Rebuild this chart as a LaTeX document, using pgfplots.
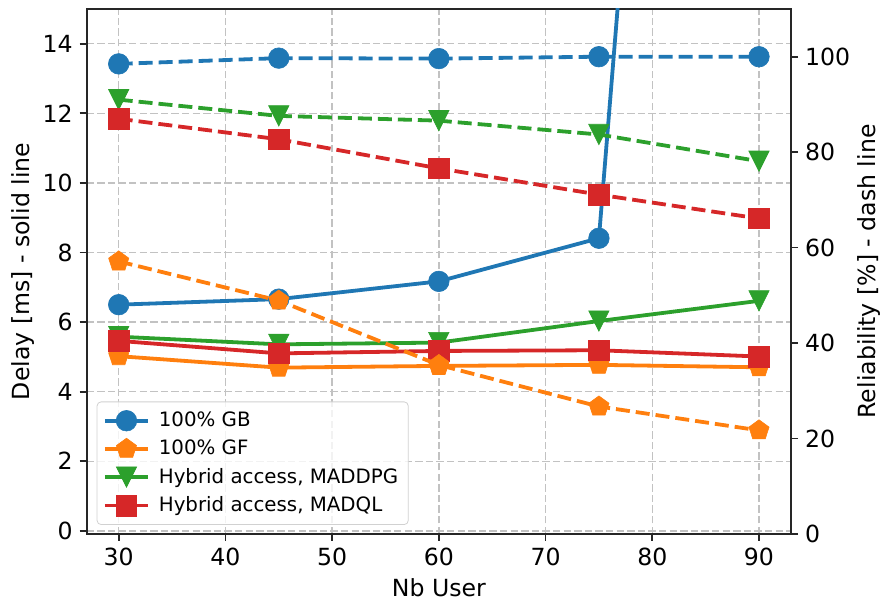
\documentclass[border=0pt]{standalone}
\usepackage{pgfplots}
\pgfplotsset{compat=1.18}
\usepackage{fontspec}
\setmainfont{DejaVu Sans}
\definecolor{cB}{HTML}{1F77B4}
\definecolor{cO}{HTML}{FF7F0E}
\definecolor{cG}{HTML}{2CA02C}
\definecolor{cR}{HTML}{D62728}
\definecolor{spine}{HTML}{262626}
\pgfdeclareplotmark{tridown}{%
  \pgfpathmoveto{\pgfqpoint{0pt}{-\pgfplotmarksize}}%
  \pgfpathlineto{\pgfqpoint{-\pgfplotmarksize}{\pgfplotmarksize}}%
  \pgfpathlineto{\pgfqpoint{\pgfplotmarksize}{\pgfplotmarksize}}%
  \pgfpathclose\pgfusepathqfillstroke}
\newcommand{\fs}{\fontsize{11.8pt}{14pt}\selectfont}
\newcommand{\fl}{\fontsize{9.9pt}{12pt}\selectfont}
\pgfplotsset{
  common/.style={
    at={(0,0)}, anchor=south west,
    scale only axis, width=352.2pt, height=262.5pt,
    xmin=27, xmax=93,
    tick align=outside, major tick length=3.5pt,
    axis line style={line width=0.9pt, spine},
    tick style={line width=0.9pt, spine},
    /pgf/number format/assume math mode=true,
    tick label style={font=\fs},
    label style={font=\fs},
  },
  sol/.style={line width=1.9pt, mark options={solid, line width=0.3pt}},
  das/.style={line width=1.9pt, dash pattern=on 7pt off 3pt, mark options={solid, line width=0.3pt}},
}
\begin{document}
\begin{tikzpicture}[font=\fs]
\path[use as bounding box] (-43.35pt,-34.5pt) rectangle (398.2pt,267pt);
\begin{axis}[common,
  ymin=-0.09, ymax=15,
  xtick={30,40,...,90}, ytick={0,2,...,14},
  xtick pos=bottom, ytick pos=left,
  grid=major,
  grid style={dash pattern=on 3.7pt off 1.6pt, color=black!24, line width=0.7pt},
  xlabel={Nb User}, ylabel={Delay [ms] - solid line},
  xlabel style={at={(axis description cs:0.5,-0.1029)}, anchor=center},
  ylabel style={at={(axis description cs:-0.0904,0.5)}, anchor=center},
  legend style={at={(0.0142,0.0171)}, anchor=south west, draw=black!18,
    rounded corners=2pt, fill=white, fill opacity=0.8, text opacity=1,
    font=\fl, row sep=1.2pt,
    inner xsep=3pt, inner ysep=3pt},
  legend cell align=left,
  legend image code/.code={\draw[fill opacity=1, draw opacity=1, mark repeat=2,mark phase=2] plot coordinates {(0pt,0pt) (10.75pt,0pt) (21.5pt,0pt)}; \path (24pt,0pt);},
]
\addplot[sol, color=cB, mark=*, mark size=5.15pt] coordinates {(30,6.50) (45,6.66) (60,7.17) (75,8.41) (90,65)};
\addlegendentry{100\% GB}
\addplot[sol, color=cO, mark=pentagon*, mark size=5.3pt] coordinates {(30,5.02) (45,4.69) (60,4.74) (75,4.77) (90,4.70)};
\addlegendentry{100\% GF}
\addplot[sol, color=cG, mark=tridown, mark size=5.1pt] coordinates {(30,5.58) (45,5.36) (60,5.41) (75,6.03) (90,6.61)};
\addlegendentry{Hybrid access, MADDPG}
\addplot[sol, color=cR, mark=square*, mark size=5.15pt] coordinates {(30,5.46) (45,5.10) (60,5.17) (75,5.19) (90,5.01)};
\addlegendentry{Hybrid access, MADQL}
\end{axis}
\begin{axis}[common,
  ymin=0, ymax=110,
  axis y line*=right, axis x line=none,
  ytick={0,20,...,100},
  ylabel={Reliability [\%] - dash line},
  ylabel style={at={(axis description cs:1.1113,0.5)}, anchor=center, rotate=0},
]
\addplot[das, color=cB, mark=*, mark size=5.15pt] coordinates {(30,98.5) (45,99.7) (60,99.6) (75,100) (90,100)};
\addplot[das, color=cO, mark=pentagon*, mark size=5.3pt] coordinates {(30,57.1) (45,48.9) (60,35.4) (75,26.7) (90,21.7)};
\addplot[das, color=cG, mark=tridown, mark size=5.1pt] coordinates {(30,91.0) (45,87.6) (60,86.6) (75,83.7) (90,78.1)};
\addplot[das, color=cR, mark=square*, mark size=5.15pt] coordinates {(30,87.0) (45,82.7) (60,76.6) (75,71.1) (90,66.1)};
\end{axis}
\end{tikzpicture}
\end{document}
